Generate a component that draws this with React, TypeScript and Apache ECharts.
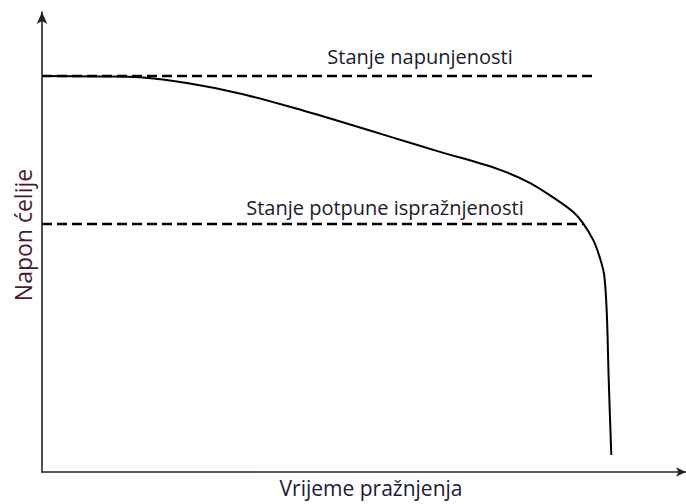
import React, { useEffect, useRef } from "react";
import * as echarts from "echarts";

// Schematic discharge curve (normalized units: time 0..100, voltage 0..100)
const curveTime = [0, 9.0, 15.2, 22.7, 30.7, 38.5, 46.3, 54.0, 61.8, 70.7, 75.8, 80.0, 82.5, 84.0, 85.6, 86.6, 87.3, 87.7, 88.0, 88.4];
const curveVoltage = [86.1, 86.0, 85.8, 84.5, 82.3, 79.4, 76.2, 72.9, 69.6, 65.9, 62.8, 59.1, 56.5, 54.1, 50.4, 46.7, 42.8, 34.6, 20.0, 3.7];

const fullLevel = 86.1;
const fullEnd = 85.6;
const emptyLevel = 53.9;
const emptyEnd = 84.0;

const fullLabel = "Stanje napunjenosti";
const emptyLabel = "Stanje potpune ispražnjenosti";
const xName = "Vrijeme pražnjenja";
const yName = "Napon ćelije";

const FONT = "'Open Sans', sans-serif";

export default function App() {
  const ref = useRef<HTMLDivElement>(null);
  useEffect(() => {
    if (!ref.current) return;
    const chart = echarts.init(ref.current, undefined, { renderer: "svg" });
    const curve = curveTime.map((t, i) => [t, curveVoltage[i]]);
    chart.setOption({
      animation: false,
      backgroundColor: "#fff",
      grid: { left: 42, right: 0, top: 12, bottom: 32, outerBoundsMode: "none", containLabel: false },
      xAxis: {
        type: "value",
        min: 0,
        max: 100,
        axisLine: { show: true, lineStyle: { color: "#222", width: 1.6 }, symbol: ["none", "arrow"], symbolSize: [7, 10] },
        axisTick: { show: false },
        axisLabel: { show: false },
        splitLine: { show: false },
      },
      yAxis: {
        type: "value",
        min: 0,
        max: 100,
        axisLine: { show: true, lineStyle: { color: "#222", width: 1.6 }, symbol: ["none", "arrow"], symbolSize: [8, 12] },
        axisTick: { show: false },
        axisLabel: { show: false },
        splitLine: { show: false },
      },
      series: [
        {
          type: "line",
          data: [[0, fullLevel], [fullEnd, fullLevel]],
          showSymbol: false,
          lineStyle: { color: "#000", width: 2.5, type: [10, 5] },
          z: 2,
        },
        {
          type: "line",
          data: [[0, emptyLevel], [emptyEnd, emptyLevel]],
          showSymbol: false,
          lineStyle: { color: "#000", width: 2.5, type: [10, 5] },
          z: 2,
        },
        {
          type: "line",
          data: curve,
          smooth: 0.3,
          showSymbol: false,
          lineStyle: { color: "#000", width: 2 },
          z: 3,
        },
      ],
      graphic: [
        {
          type: "text",
          x: 420,
          y: 56,
          style: { text: fullLabel, fontFamily: FONT, fontSize: 20, fill: "#1a1a2a", align: "center", verticalAlign: "middle" },
        },
        {
          type: "text",
          x: 385,
          y: 207,
          style: { text: emptyLabel, fontFamily: FONT, fontSize: 20, fill: "#1a1a2a", align: "center", verticalAlign: "middle" },
        },
        {
          type: "text",
          x: 371,
          y: 488,
          style: { text: xName, fontFamily: FONT, fontSize: 21, fill: "#1a1a3a", align: "center", verticalAlign: "middle" },
        },
        {
          type: "text",
          x: 23,
          y: 235,
          rotation: Math.PI / 2,
          style: { text: yName, fontFamily: FONT, fontSize: 23, fill: "#4a1a2a", align: "center", verticalAlign: "middle" },
        },
      ],
    });
    return () => chart.dispose();
  }, []);
  return <div ref={ref} style={{ width: 686, height: 504, position: "absolute", left: 0, top: 0 }} />;
}
